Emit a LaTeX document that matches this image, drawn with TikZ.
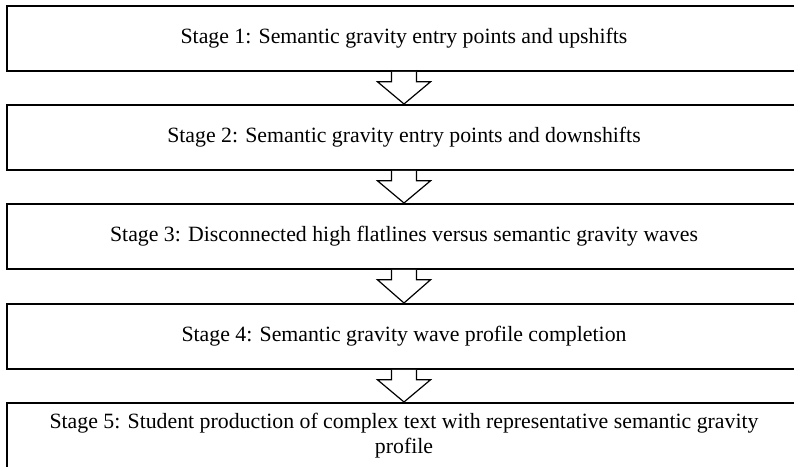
\documentclass[tikz,border=0pt]{standalone}
\usepackage{fontspec}
\setmainfont{Liberation Serif}
\usetikzlibrary{calc}
\tikzset{
  stagebox/.style={draw=black, line width=1.8pt, minimum width=794pt, minimum height=65pt, inner sep=0pt, font=\fontsize{21.8pt}{25pt}\selectfont, align=center, anchor=north},
  blockarrow/.style={draw=black, fill=white, line width=1.2pt, line join=miter}
}
\newcommand{\stagearrow}[2]{%
  \draw[blockarrow] ($(#1.south)+(-12.5pt,0)$) -- ++(0,-10pt) -- ++(-14pt,0) -- ($(#2.north)$) -- ($(#1.south)+(26.5pt,-10pt)$) -- ++(-14pt,0) -- ($(#1.south)+(12.5pt,0)$);}
\begin{document}
\begin{tikzpicture}[x=1pt,y=1pt]
\useasboundingbox (0,0) rectangle (794,-466);
\clip (0,0) rectangle (794,-466);
\node[stagebox] (s1) at (404,-5) {Stage 1: Semantic gravity entry points and upshifts};
\node[stagebox] (s2) at (404,-104) {Stage 2: Semantic gravity entry points and downshifts};
\node[stagebox] (s3) at (404,-203) {Stage 3: Disconnected high flatlines versus semantic gravity waves};
\node[stagebox] (s4) at (404,-303) {Stage 4: Semantic gravity wave profile completion};
\node[stagebox] (s5) at (404,-402) {Stage 5: Student production of complex text with representative semantic gravity\\profile};
\stagearrow{s1}{s2}
\stagearrow{s2}{s3}
\stagearrow{s3}{s4}
\stagearrow{s4}{s5}
\end{tikzpicture}
\end{document}
